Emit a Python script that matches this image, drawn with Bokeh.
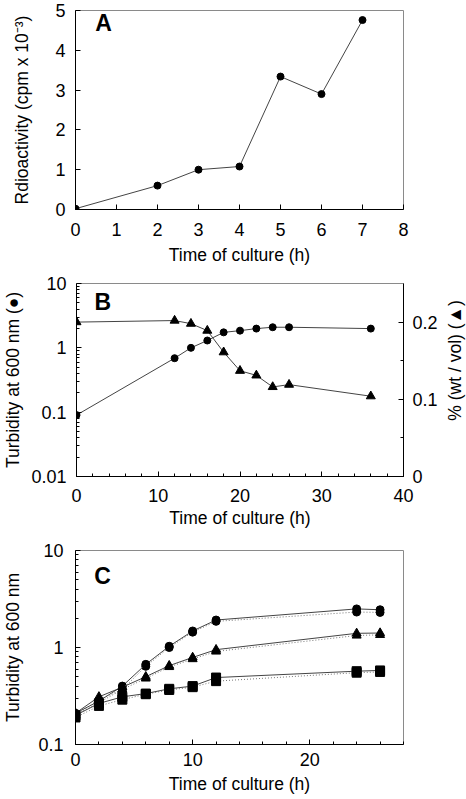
import math
from bokeh.plotting import figure
from bokeh.models import (Range1d, LinearAxis, FixedTicker, Label, LinearScale,
                          CustomJSTickFormatter)
from bokeh.layouts import column, row
from bokeh.embed import file_html
from bokeh.resources import INLINE

# ---------------- data ----------------
# Panel A
time_a = [0, 2, 3, 4, 5, 6, 7]
radioactivity_a = [0.02, 0.60, 1.00, 1.08, 3.34, 2.90, 4.76]
xticks_a = [0, 1, 2, 3, 4, 5, 6, 7, 8]
yticks_a = [0, 1, 2, 3, 4, 5]

# Panel B
time_b = [0, 12, 14, 16, 18, 20, 22, 24, 26, 36]
turbidity_b = [0.09, 0.69, 1.00, 1.30, 1.74, 1.85, 1.99, 2.09, 2.09, 1.99]
percent_b = [0.200, 0.202, 0.198, 0.189, 0.161, 0.137, 0.131, 0.116, 0.119, 0.104]
xticks_b = [0, 10, 20, 30, 40]
yticks_b_left = [0.01, 0.1, 1, 10]
yticks_b_right = [0, 0.1, 0.2]
yminor_b_right = [0.05, 0.15]

# Panel C
time_c = [0, 2, 4, 6, 8, 10, 12, 24, 26]
circle_c = [0.21, 0.28, 0.40, 0.67, 1.03, 1.48, 1.92, 2.50, 2.45]
circle_c_rep = [0.20, 0.27, 0.37, 0.64, 1.00, 1.44, 1.86, 2.32, 2.30]
triangle_c = [0.21, 0.31, 0.39, 0.50, 0.65, 0.79, 0.95, 1.40, 1.41]
triangle_c_rep = [0.20, 0.29, 0.37, 0.48, 0.63, 0.76, 0.91, 1.33, 1.35]
square_c = [0.20, 0.265, 0.31, 0.335, 0.375, 0.40, 0.49, 0.57, 0.58]
square_c_rep = [0.19, 0.25, 0.29, 0.33, 0.365, 0.39, 0.45, 0.55, 0.56]
xticks_c = [0, 10, 20]
yticks_c = [0.1, 1, 10]

FONT = "Liberation Sans"
TICK_FS = "18px"
TITLE_FS = "17.5px"
W = 466


def fmt():
    return CustomJSTickFormatter(code="return String(tick);")


def log_minor(lo_exp, hi_exp):
    return [m * 10 ** e for e in range(lo_exp, hi_exp) for m in range(2, 10)]


def style_axis(ax, label_standoff=8, title_standoff=5):
    ax.axis_line_color = "black"
    ax.axis_line_width = 1
    ax.major_tick_in = 5
    ax.major_tick_out = 0
    ax.minor_tick_in = 3
    ax.minor_tick_out = 0
    ax.major_tick_line_color = "black"
    ax.minor_tick_line_color = "black"
    ax.major_label_text_font = FONT
    ax.major_label_text_font_size = TICK_FS
    ax.major_label_text_color = "black"
    ax.major_label_standoff = label_standoff
    ax.axis_label_text_font = FONT
    ax.axis_label_text_font_size = TITLE_FS
    ax.axis_label_text_font_style = "normal"
    ax.axis_label_text_color = "black"
    ax.axis_label_standoff = title_standoff
    ax.formatter = fmt()


def make_fig(width, height, btop, bbottom, bright, xr, yr, ylog=False):
    p = figure(width=width, height=height, x_range=xr, y_range=yr,
               y_axis_type="log" if ylog else "linear",
               output_backend="svg", toolbar_location=None,
               min_border_left=72, min_border_right=bright,
               min_border_top=btop, min_border_bottom=bbottom)
    p.xgrid.visible = False
    p.ygrid.visible = False
    p.outline_line_color = "#8a8a8a"
    p.outline_line_width = 1
    p.background_fill_color = "white"
    p.border_fill_color = "white"
    return p


def panel_letter(p, x, y, t):
    p.add_layout(Label(x=x, y=y, text=t, text_font=FONT, text_font_size="23px",
                       text_font_style="bold", text_color="black",
                       text_baseline="middle", text_align="left"))


LINE = "#444444"

# ---------------- Panel A ----------------
pa = make_fig(W, 273, 10, 64, 63, Range1d(0, 8), Range1d(0, 5))
pa.xaxis.ticker = FixedTicker(ticks=xticks_a, minor_ticks=[])
pa.yaxis.ticker = FixedTicker(ticks=yticks_a, minor_ticks=[])
for ax in pa.xaxis:
    style_axis(ax, 13, 6)
    ax.axis_label = "Time of culture (h)"
for ax in pa.yaxis:
    style_axis(ax, 10, 20)
    ax.axis_label = "Rdioactivity (cpm x 10\u207b\u00b3)"
pa.line(time_a, radioactivity_a, line_color=LINE, line_width=1)
pa.scatter(time_a, radioactivity_a, marker="circle", size=7,
           fill_color="black", line_color="black")
panel_letter(pa, 0.48, 4.68, "A")

# ---------------- Panel B ----------------
HB = 267
pb = make_fig(443, HB, 10, 64, 40, Range1d(0, 40), Range1d(0.01, 10), ylog=True)
pb.extra_y_ranges = {"pct": Range1d(0, 0.25)}
pb.extra_y_scales = {"pct": LinearScale()}
pb.xaxis.ticker = FixedTicker(ticks=xticks_b, minor_ticks=list(range(0, 41, 2)))
pb.yaxis.ticker = FixedTicker(ticks=yticks_b_left, minor_ticks=log_minor(-2, 1))
for ax in pb.xaxis:
    style_axis(ax, 12, 3)
    ax.axis_label = "Time of culture (h)"
for ax in pb.yaxis:
    style_axis(ax, 10, 5)
    ax.axis_label = "Turbidity at 600 nm (\u25cf)"
right = LinearAxis(y_range_name="pct",
                   ticker=FixedTicker(ticks=yticks_b_right, minor_ticks=yminor_b_right))
style_axis(right, 9, 2)
pb.add_layout(right, "right")

pb.line(time_b, turbidity_b, line_color=LINE, line_width=1)
pb.scatter(time_b, turbidity_b, marker="circle", size=7,
           fill_color="black", line_color="black")
pb.line(time_b, percent_b, line_color=LINE, line_width=1, y_range_name="pct")
pb.scatter(time_b, percent_b, marker="triangle", size=9,
           fill_color="black", line_color="black", y_range_name="pct")
panel_letter(pb, 2.2, 5.07, "B")

# right-hand axis title (reads bottom-to-top), drawn in a narrow strip figure
side = figure(width=W - 443, height=HB, x_range=Range1d(0, 1), y_range=Range1d(0, HB),
              output_backend="svg", toolbar_location=None,
              x_axis_location=None, y_axis_location=None, min_border=0)
side.xgrid.visible = False
side.ygrid.visible = False
side.outline_line_color = None
side.background_fill_color = "white"
side.border_fill_color = "white"
side.add_layout(Label(x=0.5, y=HB - 10 - (HB - 10 - 64) / 2, text="% (wt / vol) (\u25b2)",
                      angle=math.pi / 2, text_font=FONT, text_font_size=TITLE_FS,
                      text_color="black", text_align="center", text_baseline="middle"))

# ---------------- Panel C ----------------
pc = make_fig(W, 259, 10, 55, 60, Range1d(0, 28), Range1d(0.1, 10), ylog=True)
pc.xaxis.ticker = FixedTicker(ticks=xticks_c, minor_ticks=list(range(0, 29, 2)))
pc.yaxis.ticker = FixedTicker(ticks=yticks_c, minor_ticks=log_minor(-1, 1))
for ax in pc.xaxis:
    style_axis(ax, 8, 5)
    ax.axis_label = "Time of culture (h)"
for ax in pc.yaxis:
    style_axis(ax, 12, 12)
    ax.axis_label = "Turbidity at 600 nm"

for ys, mk, sz in [(circle_c_rep, "circle", 8), (triangle_c_rep, "triangle", 9),
                   (square_c_rep, "square", 9)]:
    pc.line(time_c, ys, line_color="#777777", line_width=1, line_dash="1 2")
    pc.scatter(time_c, ys, marker=mk, size=sz, fill_color="black", line_color="black")
for ys, mk, sz in [(circle_c, "circle", 8), (triangle_c, "triangle", 9),
                   (square_c, "square", 9)]:
    pc.line(time_c, ys, line_color=LINE, line_width=1)
    pc.scatter(time_c, ys, marker=mk, size=sz, fill_color="black", line_color="black")
panel_letter(pc, 1.6, 5.4, "C")

layout = column(pa, row(pb, side), pc)
open("out.html", "w").write(file_html(layout, INLINE))
